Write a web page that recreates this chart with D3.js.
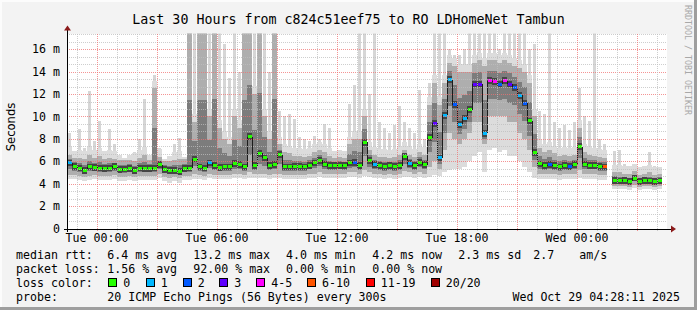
<!DOCTYPE html>
<html>
<head>
<meta charset="utf-8">
<script src="https://cdn.jsdelivr.net/npm/d3@7"></script>
<style>
  body { margin: 0; background: #f3f3f3; }
  svg text { font-family: "DejaVu Sans Mono", monospace; fill: #000; }
</style>
</head>
<body>
<div id="chart"></div>
<script>
// ---- data (15 minute bins, first bin starts Mon 22:30) ----
const startTime = new Date(2025, 9, 27, 22, 30);
const endTime = new Date(2025, 9, 29, 4, 30);
const binMinutes = 15;

// median rtt in ms
const median = [
  5.85, 5.55, 5.4, 5.2, 5.5, 5.46, 5.4, 5.34, 5.4, 5.55,
  5.25, 5.3, 5.34, 5.2, 5.4, 5.35, 5.35, 5.4, 5.7, 5.25,
  5.15, 5.2, 5.1, 5.35, 5.4, 6.2, 5.5, 5.4, 5.85, 5.6,
  5.45, 5.5, 5.5, 5.8, 5.7, 5.5, 8.2, 5.6, 6.7, 6.3,
  5.6, 5.7, 6.6, 5.5, 5.5, 5.55, 5.55, 5.5, 5.65, 5.85,
  6.1, 5.75, 5.6, 5.6, 5.65, 5.6, 5.85, 5.9, 5.6, 7.7,
  6.05, 5.7, 5.6, 5.55, 5.6, 5.55, 5.6, 6.45, 5.8, 5.6,
  5.9, 5.7, 8.1, 9.4, 6.3, 10.1, 13.3, 11.05, 9.3, 9.8,
  10.6, 12.9, 12.9, 8.5, 13.2, 13.1, 12.9, 13.2, 12.9, 12.6,
  11.9, 11.2, 9.6, 6.8, 5.76, 5.6, 5.7, 5.6, 5.5, 5.6,
  5.55, 5.7, 7.3, 5.75, 5.65, 5.65, 5.55, 5.5, null, 4.3,
  4.25, 4.3, 4.2, 4.5, 4.2, 4.3, 4.25, 4.2, 4.25, null
];

// index into lossColors for each bin
const lossIdx = [
  1, 0, 0, 0, 0, 0, 0, 0, 0, 0,
  0, 0, 0, 0, 0, 0, 0, 0, 0, 0,
  0, 0, 0, 0, 0, 0, 0, 0, 1, 0,
  0, 0, 0, 0, 0, 0, 0, 0, 0, 0,
  0, 0, 0, 0, 0, 0, 0, 0, 0, 0,
  0, 0, 0, 0, 0, 0, 0, 2, 0, 0,
  0, 1, 0, 0, 0, 0, 0, 0, 1, 0,
  0, 0, 0, 3, 1, 1, 1, 2, 1, 1,
  0, 3, 3, 1, 4, 4, 2, 4, 3, 2,
  1, 2, 0, 0, 0, 0, 2, 0, 0, 0,
  2, 0, 0, 0, 0, 0, 0, 5, 0, 0,
  0, 0, 0, 0, 0, 0, 0, 0, 0, 0
];

// smoke: slowest ping
const smokeMax = [
  8.5, 6.9, 8.9, 7.2, 12.3, 7.8, 9.6, 6.9, 8.9, 7.5,
  6.6, 6.3, 6.6, 6.8, 8.0, 11.6, 6.6, 13.7, 7.2, 6.2,
  6.5, 7.5, 8.1, 6.4, 17.5, 17.5, 17.5, 17.5, 17.5, 17.5,
  17.5, 16.5, 13.4, 17.5, 14, 17.5, 17.5, 17.5, 17.5, 17.5,
  14, 17.5, 10.5, 10, 10.2, 9.8, 8.2, 8, 7.8, 8.3,
  8.0, 9.3, 9.0, 6.9, 7.0, 6.9, 11.1, 12.8, 17.5, 17.5,
  12, 17.5, 9.5, 9, 8.5, 9.2, 10.9, 9.5, 9, 8.5,
  12.4, 8, 13, 17.5, 17.5, 17.5, 16, 15.5, 15.5, 16,
  17.5, 17.5, 17.5, 17.5, 17.5, 17.5, 16, 17.5, 17.5, 17.5,
  17.5, 17.5, 16, 16.5, 10.5, 10.2, 17.5, 9.5, 9.0, 9.2,
  8.8, 9.5, 12.5, 10.0, 9.6, 17.5, 8.0, 7.5, null, 6.9,
  7.0, 5.8, 5.6, 5.8, 5.5, 5.6, 6.8, 5.6, 5.5, null
];

// smoke: upper edge of the denser pings
const smokeUpper = [
  6.6, 6.3, 6.3, 6.2, 6.6, 6.3, 6.5, 6.2, 6.3, 6.2,
  6.1, 6.1, 6.1, 6.0, 6.3, 6.6, 6.1, 12.5, 6.4, 6.0,
  6.0, 6.1, 6.2, 6.2, 17.5, 9.5, 17.5, 17.5, 10, 17.5,
  9, 8, 7.5, 10, 9, 17.5, 17.5, 12, 17.5, 10,
  8, 17.5, 7.5, 6.8, 6.7, 6.5, 6.5, 6.4, 6.5, 6.8,
  7.0, 6.8, 6.5, 6.3, 6.4, 6.3, 7.5, 8.0, 8.0, 10,
  7.0, 6.6, 6.4, 6.4, 6.3, 6.4, 6.6, 7.0, 6.6, 6.4,
  6.8, 6.6, 11, 13, 11, 13, 14.8, 14.5, 14, 14,
  14, 14.8, 15, 14.5, 15, 15, 14.8, 15, 14.8, 14.5,
  14.3, 14, 13, 10, 7.2, 6.8, 7.0, 6.7, 6.5, 6.6,
  6.5, 6.6, 9, 6.8, 6.6, 6.5, 6.4, 6.3, null, 5.0,
  5.0, 4.9, 4.9, 5.1, 4.8, 4.9, 5.0, 4.8, 4.9, null
];

// smoke: lower edge of the denser pings
const smokeLower = [
  4.8, 4.8, 4.7, 4.6, 4.7, 4.8, 4.7, 4.7, 4.7, 4.8,
  4.6, 4.6, 4.7, 4.6, 4.7, 4.7, 4.7, 4.7, 4.9, 4.6,
  4.5, 4.6, 4.5, 4.7, 4.7, 4.9, 4.8, 4.7, 4.9, 4.8,
  4.8, 4.8, 4.8, 4.9, 4.9, 4.8, 5.0, 4.9, 4.9, 4.9,
  4.8, 4.9, 4.9, 4.8, 4.8, 4.8, 4.8, 4.8, 4.9, 4.9,
  5.0, 4.9, 4.9, 4.9, 4.9, 4.9, 5.0, 5.0, 4.9, 5.2,
  5.0, 4.9, 4.9, 4.8, 4.9, 4.8, 4.9, 5.1, 5.0, 4.9,
  5.0, 4.9, 5.5, 6, 5.3, 7, 8.5, 8, 7.5, 8,
  8.5, 9.5, 9.5, 7.5, 10, 10, 10, 10, 9.5, 9.5,
  8.5, 8, 7, 5.5, 4.9, 4.9, 4.9, 4.9, 4.8, 4.9,
  4.9, 4.9, 5.2, 4.9, 4.9, 4.9, 4.8, 4.8, null, 3.8,
  3.8, 3.8, 3.7, 3.9, 3.7, 3.8, 3.8, 3.7, 3.8, null
];

// smoke: fastest ping
const smokeMin = [
  4.4, 4.4, 4.3, 4.2, 4.3, 4.4, 4.3, 4.3, 4.3, 4.4,
  4.2, 4.2, 4.3, 4.2, 4.3, 4.3, 4.3, 4.3, 4.5, 4.2,
  4.1, 4.2, 4.1, 4.3, 4.3, 4.4, 4.4, 4.3, 4.5, 4.4,
  4.4, 4.4, 4.4, 4.5, 4.5, 4.4, 4.5, 4.5, 4.5, 4.5,
  4.4, 4.5, 4.5, 4.4, 4.4, 4.4, 4.4, 4.4, 4.5, 4.5,
  4.6, 4.5, 4.5, 4.5, 4.5, 4.5, 4.6, 4.6, 4.5, 4.7,
  4.6, 4.5, 4.5, 4.4, 4.5, 4.4, 4.5, 4.6, 4.6, 4.5,
  4.6, 4.5, 4.6, 4.8, 4.7, 5, 5.2, 5.3, 5.3, 5.5,
  6, 6.5, 6.8, 5, 7, 7.2, 6.8, 7, 6.5, 6.5,
  6, 5.5, 5, 4.5, 4.4, 4.4, 4.4, 4.4, 4.3, 4.4,
  4.4, 4.4, 4.5, 4.4, 4.4, 4.4, 4.3, 4.3, null, 3.5,
  3.5, 3.5, 3.4, 3.6, 3.4, 3.5, 3.5, 3.4, 3.5, null
];

const lossColors = ['#26ff00', '#00b8ff', '#0059ff', '#5e00ff', '#ff00ff', '#ff5500', '#ff0000', '#a00000'];
const lossLabels = ['0', '1', '2', '3', '4-5', '6-10', '11-19', '20/20'];

const yTicks = [0, 2, 4, 6, 8, 10, 12, 14, 16];
const xLabelTimes = [
  new Date(2025, 9, 28, 0, 0), new Date(2025, 9, 28, 6, 0), new Date(2025, 9, 28, 12, 0),
  new Date(2025, 9, 28, 18, 0), new Date(2025, 9, 29, 0, 0)
];

const legendRtt = ['6.4 ms avg', '13.2 ms max', '4.0 ms min', '4.2 ms now', '2.3 ms sd', '2.7', 'am/s'];
const legendLoss = ['1.56 % avg', '92.00 % max', '0.00 % min', '0.00 % now'];
const titleText = 'Last 30 Hours from c824c51eef75 to RO LDHomeNet Tambun';
const probeText = '20 ICMP Echo Pings (56 Bytes) every 300s';
const stampText = 'Wed Oct 29 04:28:11 2025';

// ---- layout ----
const W = 697, H = 310;
const plot = { left: 67, right: 667, bottom: 228.5, top: 33.6 };

const svg = d3.select('#chart').append('svg')
  .attr('width', W).attr('height', H)
  .attr('shape-rendering', 'crispEdges');

svg.append('rect').attr('width', W).attr('height', H).attr('fill', '#f3f3f3');
// frame shading
svg.append('rect').attr('x', 0).attr('y', 0).attr('width', W).attr('height', 2).attr('fill', '#fcfcfc');
svg.append('rect').attr('x', 0).attr('y', 0).attr('width', 2).attr('height', H).attr('fill', '#fcfcfc');
svg.append('rect').attr('x', W - 3).attr('y', 0).attr('width', 3).attr('height', H).attr('fill', '#9e9e9e');
svg.append('rect').attr('x', 0).attr('y', H - 3).attr('width', W).attr('height', 3).attr('fill', '#9e9e9e');

const x = d3.scaleTime().domain([startTime, endTime]).range([plot.left, plot.right]);
const y = d3.scaleLinear().domain([0, 17.4]).range([plot.bottom, plot.top]);

svg.append('rect')
  .attr('x', plot.left).attr('y', plot.top)
  .attr('width', plot.right - plot.left).attr('height', plot.bottom - plot.top)
  .attr('fill', '#fff');

svg.append('defs').append('clipPath').attr('id', 'clip')
  .append('rect')
  .attr('x', plot.left).attr('y', plot.top)
  .attr('width', plot.right - plot.left).attr('height', plot.bottom - plot.top);

const bins = median.map((m, i) => ({
  t0: d3.timeMinute.offset(startTime, i * binMinutes),
  t1: d3.timeMinute.offset(startTime, (i + 1) * binMinutes),
  med: m, loss: lossIdx[i],
  max: smokeMax[i], up: smokeUpper[i], low: smokeLower[i], min: smokeMin[i]
})).filter(d => d.med != null);

const g = svg.append('g').attr('clip-path', 'url(#clip)');

// shaded band per bin; inset narrows the bar so single slow pings read as spikes
function band(cls, lo, hi, fill, inset) {
  inset = inset || 0;
  g.selectAll('.' + cls)
    .data(bins)
    .join('rect')
    .attr('class', cls)
    .attr('x', d => x(d.t0) + inset)
    .attr('width', d => x(d.t1) - x(d.t0) - 2 * inset)
    .attr('y', d => y(hi(d)))
    .attr('height', d => Math.max(0, y(lo(d)) - y(hi(d))))
    .attr('fill', fill);
}

band('smoke-spike', d => d.up, d => d.max, '#d6d6d6', 1);
band('smoke-light', d => d.min, d => Math.min(d.max, d.up + 0.7), '#dcdcdc');
band('smoke-mid', d => d.low, d => d.up, '#aeaeae');
band('smoke-dark', d => (d.low + d.med) / 2, d => (d.up + d.med) / 2, '#7c7c7c');
band('smoke-core', d => d.med - 0.3, d => d.med + 0.3, '#454545');

// grid
const gridG = svg.append('g');
const minorY = d3.range(1, 27).map(k => k * 2 / 3).filter((v, k) => (k + 1) % 3 !== 0);
gridG.selectAll('.hminor').data(minorY).join('line')
  .attr('x1', plot.left).attr('x2', plot.right)
  .attr('y1', d => Math.round(y(d)) + 0.5).attr('y2', d => Math.round(y(d)) + 0.5)
  .attr('stroke', '#bdbdbd').attr('stroke-opacity', 0.75).attr('stroke-dasharray', '1,1');
gridG.selectAll('.hmajor').data(yTicks.slice(1)).join('line')
  .attr('x1', plot.left).attr('x2', plot.right)
  .attr('y1', d => Math.round(y(d)) + 0.5).attr('y2', d => Math.round(y(d)) + 0.5)
  .attr('stroke', '#f07070').attr('stroke-opacity', 0.75).attr('stroke-dasharray', '1,1');

const hours = d3.timeHour.range(d3.timeHour.ceil(startTime), endTime);
gridG.selectAll('.vgrid').data(hours).join('line')
  .attr('x1', d => Math.round(x(d)) + 0.5).attr('x2', d => Math.round(x(d)) + 0.5)
  .attr('y1', plot.top).attr('y2', plot.bottom + 2)
  .attr('stroke', d => d.getHours() % 3 === 0 ? '#f07070' : '#bdbdbd')
  .attr('stroke-opacity', 0.75)
  .attr('stroke-dasharray', '1,1');

// median: dark connectors then loss coloured steps
const pairs = d3.pairs(bins).filter(([a, b]) => +a.t1 === +b.t0);
g.selectAll('.conn').data(pairs).join('line')
  .attr('x1', d => Math.round(x(d[1].t0)) + 0.5).attr('x2', d => Math.round(x(d[1].t0)) + 0.5)
  .attr('y1', d => y(d[0].med)).attr('y2', d => y(d[1].med))
  .attr('stroke', '#1c1c1c').attr('stroke-width', 1);

g.selectAll('.med').data(bins).join('rect')
  .attr('x', d => x(d.t0) + 0.5)
  .attr('width', d => x(d.t1) - x(d.t0) - 1)
  .attr('y', d => y(d.med) - 1.5)
  .attr('height', 3)
  .attr('fill', d => lossColors[d.loss]);

// axes
svg.append('line').attr('x1', plot.left - 3).attr('x2', plot.right + 5)
  .attr('y1', plot.bottom + 0.5).attr('y2', plot.bottom + 0.5).attr('stroke', '#000');
svg.append('line').attr('x1', plot.left + 0.5).attr('x2', plot.left + 0.5)
  .attr('y1', plot.bottom + 3).attr('y2', plot.top - 4).attr('stroke', '#000');
svg.append('path')
  .attr('d', `M${plot.right + 4},${plot.bottom - 3}L${plot.right + 9},${plot.bottom + 0.5}L${plot.right + 4},${plot.bottom + 4}Z`)
  .attr('fill', '#8b1a1a').attr('shape-rendering', 'auto');
svg.append('path')
  .attr('d', `M${plot.left - 3},${plot.top - 3}L${plot.left + 0.5},${plot.top - 8}L${plot.left + 4},${plot.top - 3}Z`)
  .attr('fill', '#8b1a1a').attr('shape-rendering', 'auto');

// y labels
svg.append('g').selectAll('text').data(yTicks).join('text')
  .attr('x', 60).attr('y', d => y(d) + 4.2)
  .attr('text-anchor', 'end')
  .style('font-size', '11.6px')
  .text(d => d === 0 ? '0' : d + ' m');

svg.append('text')
  .attr('transform', 'translate(14.5,127) rotate(-90)')
  .attr('text-anchor', 'middle')
  .style('font-family', '"DejaVu Sans", sans-serif')
  .style('font-size', '11.6px')
  .text('Seconds');

// x labels
const fmt = d3.timeFormat('%a %H:%M');
svg.append('g').selectAll('text').data(xLabelTimes).join('text')
  .attr('x', d => x(d)).attr('y', 242)
  .attr('text-anchor', 'middle')
  .style('font-size', '11.6px')
  .text(d => fmt(d));

// title
svg.append('text')
  .attr('x', W / 2).attr('y', 24)
  .attr('text-anchor', 'middle')
  .style('font-size', '13.3px')
  .text(titleText);

// watermark
svg.append('text')
  .attr('transform', 'translate(684.5,5) rotate(90)')
  .style('font-size', '8.3px')
  .style('fill', '#a8a8a8')
  .text('RRDTOOL / TOBI OETIKER');

// legend
const rowY = [258.5, 272.5, 286.5, 300.5];
const fs = '11.6px';
function label(txt, lx, ly) {
  svg.append('text').attr('x', lx).attr('y', ly).style('font-size', fs)
    .attr('xml:space', 'preserve').text(txt);
}
label('median rtt:', 16, rowY[0]);
const rttX = [107.3, 193.3, 286, 372.3, 458.3, 533.3, 579.3];
legendRtt.forEach((t, i) => label(t, rttX[i], rowY[0]));
label('packet loss:', 16, rowY[1]);
legendLoss.forEach((t, i) => label(t, rttX[i], rowY[1]));
label('loss color:', 16, rowY[2]);
const boxX = [108.3, 145.7, 182.7, 219.3, 256.3, 307, 365.7, 430.7];
lossLabels.forEach((t, i) => {
  svg.append('rect').attr('x', boxX[i] + 0.5).attr('y', rowY[2] - 8.5)
    .attr('width', 8).attr('height', 8)
    .attr('fill', lossColors[i]).attr('stroke', '#000');
  label(t, boxX[i] + 15, rowY[2]);
});
label('probe:', 16, rowY[3]);
label(probeText, 107.3, rowY[3]);
svg.append('text').attr('x', 680).attr('y', rowY[3]).attr('text-anchor', 'end')
  .style('font-size', fs).text(stampText);
</script>
</body>
</html>
